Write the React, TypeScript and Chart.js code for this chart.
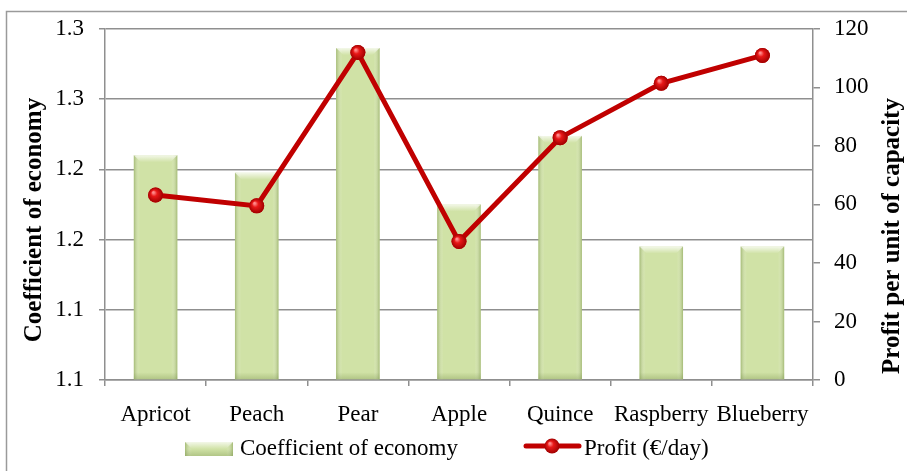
import React, { useEffect, useRef } from "react";
import { Chart, registerables } from "chart.js";

Chart.register(...registerables);

const categories = ["Apricot", "Peach", "Pear", "Apple", "Quince", "Raspberry", "Blueberry"];
const coefficientOfEconomy = [1.228, 1.218, 1.289, 1.2, 1.239, 1.176, 1.176];
const profitPerDay = [63.2, 59.5, 111.9, 47.3, 82.8, 101.4, 110.9];
const leftTickLabels = ["1.1", "1.1", "1.2", "1.2", "1.3", "1.3"];
const barLabel = "Coefficient of economy";
const lineLabel = "Profit (€/day)";
const leftTitle = "Coefficient of economy";
const rightTitle = "Profit per unit of capacity";

const FONT = "'Liberation Serif', 'Times New Roman', serif";
const GRID = "#8f8f8f";
const BAR = "#d0e2a6";
const RED = "#c00000";

function drawBevelBar(ctx: CanvasRenderingContext2D, x: number, y: number, w: number, h: number) {
  const hg = ctx.createLinearGradient(x, 0, x + w, 0);
  hg.addColorStop(0, "rgba(135,160,85,0.6)");
  hg.addColorStop(0.14, "rgba(255,255,255,0)");
  hg.addColorStop(0.86, "rgba(255,255,255,0)");
  hg.addColorStop(1, "rgba(135,160,85,0.6)");
  ctx.fillStyle = hg;
  ctx.fillRect(x, y, w, h);
  const b = Math.min(7, h / 2);
  const vg = ctx.createLinearGradient(0, y, 0, y + b);
  vg.addColorStop(0, "rgba(255,255,255,0.75)");
  vg.addColorStop(1, "rgba(255,255,255,0)");
  ctx.fillStyle = vg;
  ctx.beginPath();
  ctx.moveTo(x, y);
  ctx.lineTo(x + w, y);
  ctx.lineTo(x + w - b, y + b);
  ctx.lineTo(x + b, y + b);
  ctx.closePath();
  ctx.fill();
  const bg = ctx.createLinearGradient(0, y + h - b, 0, y + h);
  bg.addColorStop(0, "rgba(120,145,75,0)");
  bg.addColorStop(1, "rgba(120,145,75,0.35)");
  ctx.fillStyle = bg;
  ctx.fillRect(x, y + h - b, w, b);
}

function drawBall(ctx: CanvasRenderingContext2D, x: number, y: number, r: number) {
  const g = ctx.createRadialGradient(x - r * 0.3, y - r * 0.35, r * 0.1, x, y, r);
  g.addColorStop(0, "#ff8a8a");
  g.addColorStop(0.35, "#e81818");
  g.addColorStop(1, "#a00000");
  ctx.fillStyle = g;
  ctx.beginPath();
  ctx.arc(x, y, r, 0, Math.PI * 2);
  ctx.fill();
}

const decorPlugin = {
  id: "decor",
  beforeDraw(chart: any) {
    const ctx = chart.ctx;
    ctx.save();
    ctx.strokeStyle = "#9a9a9a";
    ctx.lineWidth = 1.5;
    ctx.beginPath();
    ctx.moveTo(6.5, chart.height);
    ctx.lineTo(6.5, 11.5);
    ctx.lineTo(chart.width, 11.5);
    ctx.stroke();
    ctx.restore();
  },
  afterDatasetDraw(chart: any, args: any) {
    const ctx = chart.ctx;
    const area = chart.chartArea;
    const meta = chart.getDatasetMeta(args.index);
    ctx.save();
    if (meta.type === "bar") {
      meta.data.forEach((el: any) => {
        const w = el.width;
        const x = el.x - w / 2;
        const y = Math.max(Math.min(el.y, el.base), area.top);
        const bottom = Math.min(Math.max(el.y, el.base), area.bottom);
        drawBevelBar(ctx, x, y, w, bottom - y);
      });
    } else if (meta.type === "line") {
      meta.data.forEach((el: any) => {
        drawBall(ctx, el.x, el.y, 7.5);
      });
    }
    ctx.restore();
  },
  afterDraw(chart: any) {
    const ctx = chart.ctx;
    ctx.save();
    ctx.fillStyle = "#000";
    ctx.font = `bold 25px ${FONT}`;
    ctx.textAlign = "center";
    ctx.textBaseline = "middle";
    ctx.save();
    ctx.translate(35, 220);
    ctx.rotate(-Math.PI / 2);
    ctx.fillText(leftTitle, 0, 0);
    ctx.restore();
    ctx.save();
    ctx.translate(893, 236);
    ctx.rotate(-Math.PI / 2);
    ctx.fillText(rightTitle, 0, 0);
    ctx.restore();

    const ly = 449;
    ctx.fillStyle = BAR;
    ctx.fillRect(185, ly - 7, 48, 14);
    drawBevelBar(ctx, 185, ly - 7, 48, 14);
    ctx.font = `23px ${FONT}`;
    ctx.textAlign = "left";
    ctx.textBaseline = "middle";
    ctx.fillStyle = "#000";
    ctx.fillText(chart.data.datasets[0].label, 240, ly);

    ctx.strokeStyle = RED;
    ctx.lineWidth = 5;
    ctx.lineCap = "round";
    ctx.beginPath();
    ctx.moveTo(526, ly - 3);
    ctx.lineTo(579, ly - 3);
    ctx.stroke();
    drawBall(ctx, 552, ly - 3, 7.5);
    ctx.fillStyle = "#000";
    ctx.fillText(chart.data.datasets[1].label, 584, ly);
    ctx.restore();
  },
};

export default function App() {
  const ref = useRef<HTMLCanvasElement | null>(null);

  useEffect(() => {
    if (!ref.current) return;
    const chart = new Chart(ref.current, {
      type: "bar",
      data: {
        labels: categories,
        datasets: [
          {
            type: "bar",
            label: barLabel,
            data: coefficientOfEconomy,
            yAxisID: "y",
            backgroundColor: BAR,
            borderWidth: 0,
            barPercentage: 0.43,
            categoryPercentage: 1,
            base: 1.1,
            order: 1,
          } as any,
          {
            type: "line",
            label: lineLabel,
            data: profitPerDay,
            yAxisID: "y1",
            borderColor: RED,
            borderWidth: 5,
            pointRadius: 7.5,
            pointBackgroundColor: "#d81010",
            pointBorderColor: "#a00000",
            pointBorderWidth: 0,
            tension: 0,
            order: 0,
          } as any,
        ],
      },
      options: {
        animation: false,
        responsive: false,
        maintainAspectRatio: false,
        layout: { padding: { top: 25, bottom: 31, left: 0, right: 0 } },
        plugins: {
          legend: { display: false },
          tooltip: { enabled: false },
          title: { display: false },
        },
        scales: {
          x: {
            offset: true,
            grid: {
              offset: true,
              drawOnChartArea: false,
              drawTicks: true,
              tickLength: 6,
              color: GRID,
              lineWidth: 1.5,
            },
            border: { display: true, color: GRID, width: 1.5 },
            ticks: {
              color: "#000",
              font: { family: FONT, size: 23 },
              padding: 15,
              maxRotation: 0,
              autoSkip: false,
            },
            afterFit: (s: any) => {
              s.height = 60;
            },
          },
          y: {
            position: "left",
            min: 1.1,
            max: 1.3,
            ticks: {
              stepSize: 0.04,
              color: "#000",
              font: { family: FONT, size: 23 },
              padding: 15,
              callback: (_v: any, i: number) => leftTickLabels[i],
            },
            grid: {
              color: GRID,
              lineWidth: 1.5,
              drawTicks: true,
              tickLength: 6,
            },
            border: { display: true, color: GRID, width: 1.5 },
            afterFit: (s: any) => {
              s.width = 105;
            },
          },
          y1: {
            position: "right",
            min: 0,
            max: 120,
            ticks: {
              stepSize: 20,
              color: "#000",
              font: { family: FONT, size: 23 },
              padding: 14,
            },
            grid: {
              drawOnChartArea: false,
              color: GRID,
              lineWidth: 1.5,
              drawTicks: true,
              tickLength: 7,
            },
            border: { display: true, color: GRID, width: 1.5 },
            afterFit: (s: any) => {
              s.width = 94;
            },
          },
        },
      },
      plugins: [decorPlugin],
    });
    return () => chart.destroy();
  }, []);

  return (
    <div style={{ position: "absolute", left: 0, top: 0, width: 907, height: 471, background: "#fff" }}>
      <canvas ref={ref} width={907} height={471} style={{ display: "block" }} />
    </div>
  );
}
